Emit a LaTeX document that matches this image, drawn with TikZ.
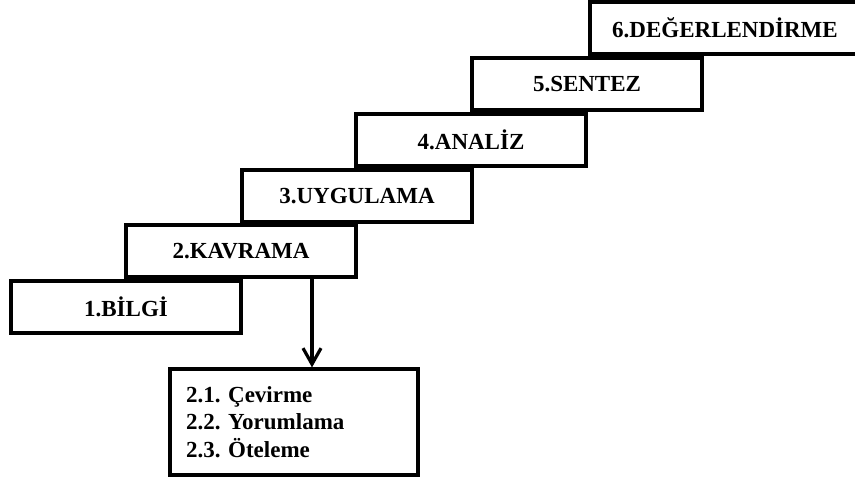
\documentclass[tikz,border=0pt]{standalone}
\usepackage{fontspec}
\setmainfont{Liberation Serif}
\usetikzlibrary{arrows.meta}
\tikzset{
    basamak/.style={draw,line width=1.6pt,fill=white,minimum width=115pt,minimum height=26pt,
        font=\bfseries\fontsize{11.5}{13.5}\selectfont},
    altkutu/.style={draw,line width=1.6pt,minimum width=124pt,minimum height=53pt,
        inner xsep=8pt,text width=108pt,align=left,
        font=\frenchspacing\bfseries\fontsize{11.5}{13.8}\selectfont},
    ok/.style={line width=1.6pt,-{Straight Barb[length=8pt,width=9pt,line width=1.6pt]}}
}
\begin{document}
\begin{tikzpicture}[x=0.5pt,y=-0.5pt]
                    \useasboundingbox(0,0)rectangle(855,482);
                    \clip(0,0)rectangle(855,482);
                    \node[basamak](k1)at(126,307){1.BİLGİ};
                    \node[basamak](k2)at(241,251){2.KAVRAMA};
                    \node[basamak](k3)at(357,196){3.UYGULAMA};
                    \node[basamak](k4)at(471,140){4.ANALİZ};
                    \node[basamak](k5)at(587,84){5.SENTEZ};
                    \node[basamak,minimum width=135pt](k6)at(725,28){6.DEĞERLENDİRME};
                    \node[altkutu](alt)at(294,422){2.1. Çevirme\\2.2. Yorumlama\\2.3. Öteleme};
                    \coordinate(okx)at(312,0);
                    \draw[ok](k2.south-|okx)--(alt.north-|okx);
                \end{tikzpicture}
\end{document}
